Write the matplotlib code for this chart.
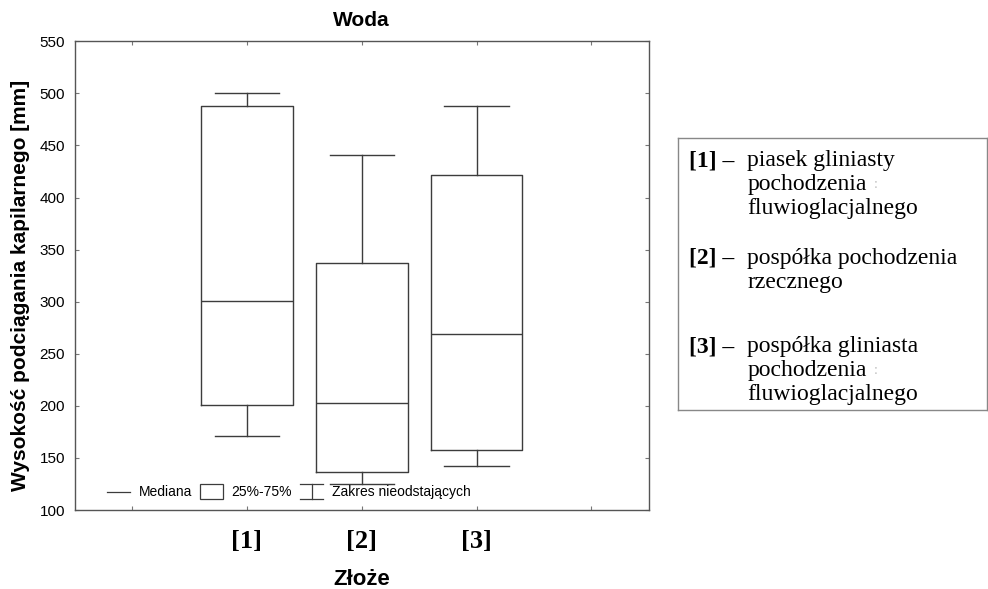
import matplotlib.pyplot as plt
from matplotlib.legend_handler import HandlerBase
from matplotlib.lines import Line2D
from matplotlib.patches import Rectangle

# box statistics per deposit, capillary rise in mm
groups = ["[1]", "[2]", "[3]"]
whisker_low = [171, 125, 142]
q1 = [201, 137, 158]
median = [301, 203, 269]
q3 = [488, 337, 422]
whisker_high = [500, 441, 488]

legend_texts = ["Mediana", "25%-75%", "Zakres nieodstających"]
descriptions = [
    ("[1] \u2013", ["piasek gliniasty", "pochodzenia", "fluwioglacjalnego"]),
    ("[2] \u2013", ["pospółka pochodzenia", "rzecznego"]),
    ("[3] \u2013", ["pospółka gliniasta", "pochodzenia", "fluwioglacjalnego"]),
]

line_col = "#3c3c3c"
frame_col = "#555555"
sans = ["Liberation Sans", "DejaVu Sans"]
serif = ["Liberation Serif", "DejaVu Serif"]


class WhiskerHandler(HandlerBase):
    def create_artists(self, legend, orig_handle, xdescent, ydescent,
                       width, height, fontsize, trans):
        cx = width / 2 - xdescent
        y0 = -ydescent - 0.3 * height
        y1 = height - ydescent + 0.3 * height
        kw = dict(color=line_col, lw=0.9, transform=trans)
        return [
            Line2D([cx, cx], [y0, y1], **kw),
            Line2D([0, width], [y0, y0], **kw),
            Line2D([0, width], [y1, y1], **kw),
        ]


class BoxHandler(HandlerBase):
    def create_artists(self, legend, orig_handle, xdescent, ydescent,
                       width, height, fontsize, trans):
        r = Rectangle((-xdescent, -ydescent - 0.3 * height), width, 1.6 * height,
                      facecolor="white", edgecolor=line_col, lw=0.9, transform=trans)
        return [r]


fig = plt.figure(figsize=(9.88, 5.89), dpi=100)
ax = fig.add_axes([0.0756, 0.134, 0.581, 0.796])

positions = [1, 2, 3]
stats = []
for i, g in enumerate(groups):
    stats.append(dict(label=g, whislo=whisker_low[i], q1=q1[i], med=median[i],
                      q3=q3[i], whishi=whisker_high[i], fliers=[]))

ax.bxp(stats, positions=positions, widths=0.8, showfliers=False,
       boxprops=dict(color=line_col, lw=1.0),
       medianprops=dict(color=line_col, lw=1.0),
       whiskerprops=dict(color=line_col, lw=1.0),
       capprops=dict(color=line_col, lw=1.0),
       capwidths=0.56)

ax.set_xlim(-0.5, 4.5)
ax.set_ylim(100, 550)
ax.set_yticks(range(100, 551, 50))
ax.set_xticks([0, 1, 2, 3, 4])
ax.set_xticklabels([""] + groups + [""], fontfamily=serif, fontweight="bold", fontsize=19)
for lbl in ax.get_yticklabels():
    lbl.set_fontfamily(sans)
    lbl.set_fontsize(11)
ax.tick_params(direction="in", length=3, width=0.8, color="#777777",
               top=True, right=True)
ax.tick_params(axis="x", pad=14)
ax.tick_params(axis="y", pad=7)
for s in ax.spines.values():
    s.set_color(frame_col)
    s.set_linewidth(1.0)

ax.set_title("Woda", fontfamily=sans, fontweight="bold", fontsize=15, pad=11)
ax.set_xlabel("Złoże", fontfamily=sans, fontweight="bold", fontsize=16, labelpad=12)
ax.set_ylabel("Wysokość podciągania kapilarnego [mm]", fontfamily=sans,
              fontweight="bold", fontsize=15)
ax.yaxis.set_label_coords(-0.077, 0.48)

handles = [Line2D([], [], color=line_col, lw=0.9), "box", "whisker"]
leg = ax.legend(handles, legend_texts, loc="lower left",
                bbox_to_anchor=(0.035, -0.004), ncol=3, frameon=False,
                handlelength=1.65, handletextpad=0.6, columnspacing=0.6,
                prop=dict(family=sans, size=10),
                handler_map={"box": BoxHandler(), "whisker": WhiskerHandler()})
leg.set_zorder(5)

# description panel on the right
panel = fig.add_axes([0.686, 0.304, 0.3125, 0.462])
panel.set_xlim(0, 1)
panel.set_ylim(0, 1)
panel.set_xticks([])
panel.set_yticks([])
for s in panel.spines.values():
    s.set_color("#888888")
    s.set_linewidth(1.0)

line_h = 0.088
y = 0.915
block_gap = [0.094, 0.149, 0.0]
for k, (tag, lines) in enumerate(descriptions):
    panel.text(0.035, y, tag, fontfamily=serif, fontweight="bold", fontsize=17,
               va="center", ha="left")
    for j, txt in enumerate(lines):
        panel.text(0.225, y - j * line_h, txt, fontfamily=serif, fontsize=17,
                   va="center", ha="left")
        if txt == "pochodzenia":
            panel.text(0.635, y - j * line_h, ":", fontfamily=serif, fontsize=10,
                       color="#bbbbbb", va="center", ha="left")
    y -= len(lines) * line_h + block_gap[k]

fig.savefig("out.png", dpi=100)
